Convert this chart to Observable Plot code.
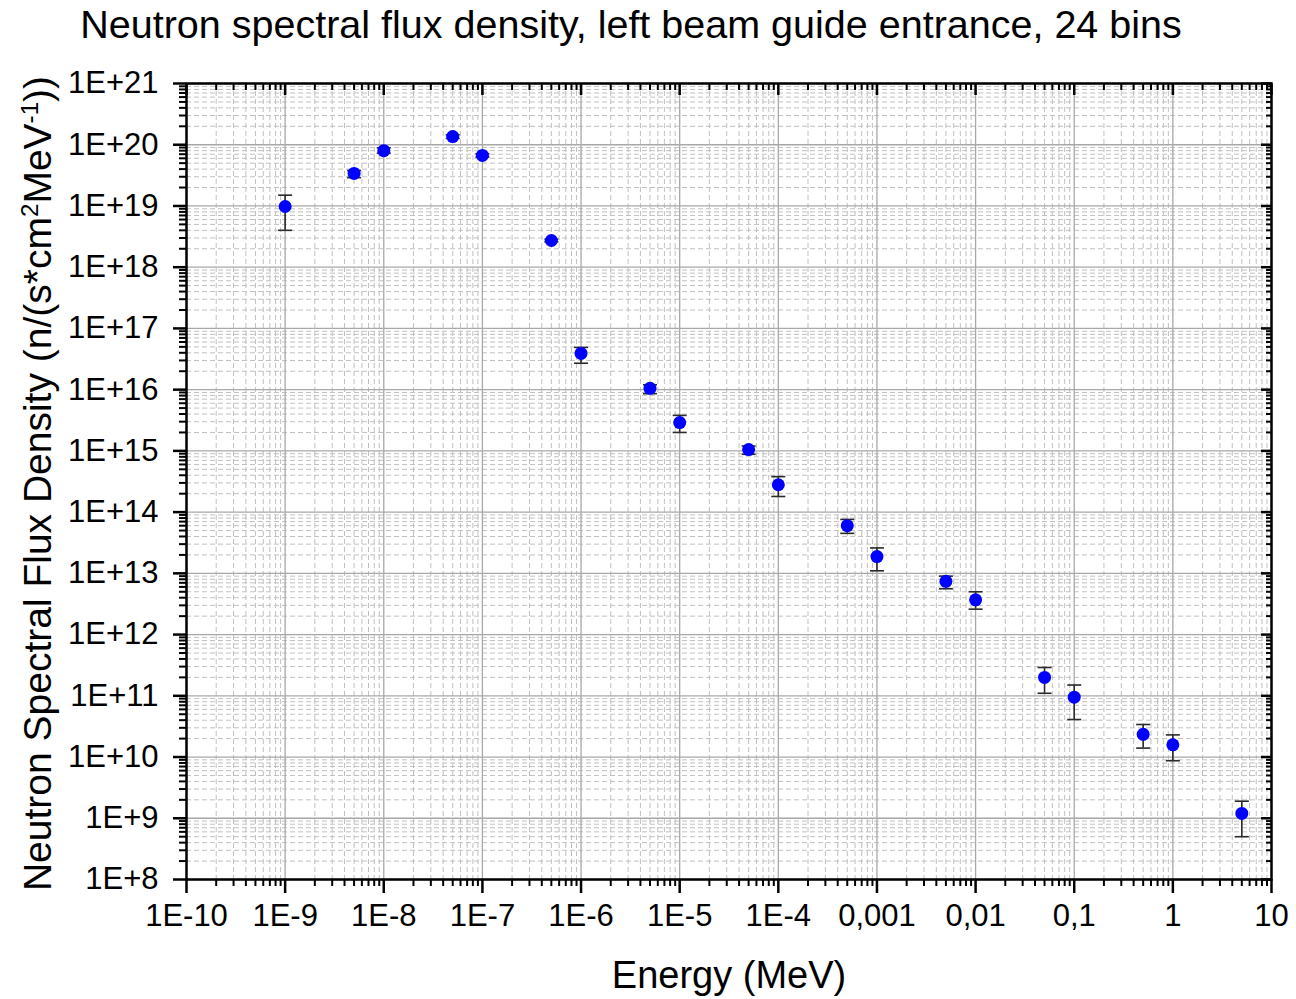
<!DOCTYPE html>
<html><head><meta charset="utf-8">
<script src="https://cdn.jsdelivr.net/npm/d3@7"></script>
<script src="https://cdn.jsdelivr.net/npm/@observablehq/plot@0.6"></script>
<style>
body{margin:0;background:#fff;}
svg{font-family:"Liberation Sans",Arial,sans-serif;}
</style>
</head><body><div id="chart"></div>
<script>
// Data
const energy   = [1e-9, 5e-9, 1e-8, 5e-8, 1e-7, 5e-7, 1e-6, 5e-6, 1e-5, 5e-5, 1e-4, 5e-4, 1e-3, 5e-3, 1e-2, 5e-2, 0.1, 0.5, 1, 5];
const flux     = [9.8e18, 3.4e19, 8.0e19, 1.36e20, 6.7e19, 2.73e18, 3.9e16, 1.05e16, 2.9e15, 1.05e15, 2.8e14, 6.0e13, 1.88e13, 7.4e12, 3.7e12, 2.0e11, 9.5e10, 2.35e10, 1.58e10, 1.2e9];
const fluxHigh = [1.5e19, 3.8e19, 8.9e19, 1.45e20, 7.1e19, 2.85e18, 4.9e16, 1.2e16, 3.8e15, 1.2e15, 3.8e14, 7.6e13, 2.6e13, 9.0e12, 5.0e12, 2.9e11, 1.5e11, 3.4e10, 2.3e10, 1.9e9];
const fluxLow  = [4.0e18, 2.9e19, 7.3e19, 1.27e20, 6.3e19, 2.6e18, 2.7e16, 8.6e15, 2.0e15, 8.8e14, 1.8e14, 4.5e13, 1.1e13, 5.6e12, 2.6e12, 1.1e11, 4.1e10, 1.4e10, 8.7e9, 5.0e8];

const xTickValues = [1e-10, 1e-9, 1e-8, 1e-7, 1e-6, 1e-5, 1e-4, 1e-3, 1e-2, 1e-1, 1, 10];
const xTickLabels = ["1E-10", "1E-9", "1E-8", "1E-7", "1E-6", "1E-5", "1E-4", "0,001", "0,01", "0,1", "1", "10"];
const yTickValues = [1e8, 1e9, 1e10, 1e11, 1e12, 1e13, 1e14, 1e15, 1e16, 1e17, 1e18, 1e19, 1e20, 1e21];
const yTickLabels = ["1E+8", "1E+9", "1E+10", "1E+11", "1E+12", "1E+13", "1E+14", "1E+15", "1E+16", "1E+17", "1E+18", "1E+19", "1E+20", "1E+21"];

const title = "Neutron spectral flux density, left beam guide entrance, 24 bins";
const xLabel = "Energy (MeV)";
const yLabel = "Neutron Spectral Flux Density (n/(s*cm2MeV-1))";
const yLabelParts = [["Neutron Spectral Flux Density (n/(s*cm", false], ["2", true], ["MeV", false], ["-1", true], ["))", false]];

const minorOf = (vals) => vals.slice(0, -1).flatMap(v => [2,3,4,5,6,7,8,9].map(k => k * v));
const xMinor = minorOf(xTickValues);
const yMinor = minorOf(yTickValues);

const data = energy.map((e, i) => ({e, f: flux[i], lo: fluxLow[i], hi: fluxHigh[i]}));
const capSymbol = {draw(ctx) { ctx.moveTo(-7, 0); ctx.lineTo(7, 0); }};

const fmtX = d => { const i = xTickValues.findIndex(v => Math.abs(Math.log10(v) - Math.log10(d)) < 1e-6); return i >= 0 ? xTickLabels[i] : ""; };
const fmtY = d => { const i = yTickValues.findIndex(v => Math.abs(Math.log10(v) - Math.log10(d)) < 1e-6); return i >= 0 ? yTickLabels[i] : ""; };

const tickFont = 31;
const chart = Plot.plot({
  width: 1296, height: 999,
  marginLeft: 186, marginRight: 25, marginTop: 83, marginBottom: 120,
  style: {fontFamily: '"Liberation Sans", Arial, sans-serif', background: "#fff", color: "#000"},
  x: {type: "log", domain: [1e-10, 10]},
  y: {type: "log", domain: [1e8, 1e21]},
  marks: [
    Plot.gridX(xMinor, {stroke: "#c0c0c0", strokeOpacity: 1, strokeWidth: 1, strokeDasharray: "5,3"}),
    Plot.gridY(yMinor, {stroke: "#c0c0c0", strokeOpacity: 1, strokeWidth: 1, strokeDasharray: "5,3"}),
    Plot.gridX(xTickValues, {stroke: "#a8a8a8", strokeOpacity: 1, strokeWidth: 1.3}),
    Plot.gridY(yTickValues, {stroke: "#a8a8a8", strokeOpacity: 1, strokeWidth: 1.3}),
    Plot.ruleX(data, {x: "e", y1: "lo", y2: "hi", stroke: "#2a2a2a", strokeWidth: 1.6}),
    Plot.dot(data, {x: "e", y: "hi", symbol: capSymbol, stroke: "#2a2a2a", strokeWidth: 1.6, r: 5}),
    Plot.dot(data, {x: "e", y: "lo", symbol: capSymbol, stroke: "#2a2a2a", strokeWidth: 1.6, r: 5}),
    Plot.dot(data, {x: "e", y: "f", r: 6.5, fill: "#0000ff", stroke: "none"}),
    // axes bottom/left (outward)
    Plot.axisX(xTickValues, {anchor: "bottom", tickSize: 14, tickPadding: 10, strokeWidth: 2.5, tickFormat: fmtX, fontSize: tickFont, label: null}),
    Plot.axisX(xMinor, {anchor: "bottom", tickSize: 7, strokeWidth: 2, fill: "none", label: null}),
    Plot.axisY(yTickValues, {anchor: "left", tickSize: 13, tickPadding: 15, strokeWidth: 2.5, tickFormat: fmtY, fontSize: tickFont, label: null}),
    Plot.axisY(yMinor, {anchor: "left", tickSize: 7, strokeWidth: 2, fill: "none", label: null}),
    // axes top/right (inward)
    Plot.axisX(xTickValues, {anchor: "top", tickSize: -11, strokeWidth: 2.5, fill: "none", label: null}),
    Plot.axisX(xMinor, {anchor: "top", tickSize: -6, strokeWidth: 2, fill: "none", label: null}),
    Plot.axisY(yTickValues, {anchor: "right", tickSize: -11, strokeWidth: 2.5, fill: "none", label: null}),
    Plot.axisY(yMinor, {anchor: "right", tickSize: -6, strokeWidth: 2, fill: "none", label: null}),
    Plot.frame({stroke: "#000", strokeWidth: 2.5}),
    Plot.text([title], {frameAnchor: "top", dx: -98, dy: -58, fontSize: 39.5, lineAnchor: "middle", textAnchor: "middle", fill: "#000"}),
    Plot.text([xLabel], {frameAnchor: "bottom", dy: 96, fontSize: 38, lineAnchor: "middle", textAnchor: "middle", fill: "#000"}),
    Plot.text([yLabel], {frameAnchor: "left", dx: -148, dy: 2, rotate: -90, fontSize: 39, lineAnchor: "middle", textAnchor: "middle", fill: "#000"})
  ]
});
document.getElementById("chart").appendChild(chart);

// superscripts in the y label
d3.select(chart).selectAll("text").filter(function() { return this.textContent === yLabel; }).each(function() {
  const t = d3.select(this);
  t.text(null);
  for (const [s, sup] of yLabelParts) {
    const sp = t.append("tspan").text(s);
    if (sup) sp.attr("baseline-shift", "super").attr("font-size", "0.62em");
  }
});
</script>
</body></html>
